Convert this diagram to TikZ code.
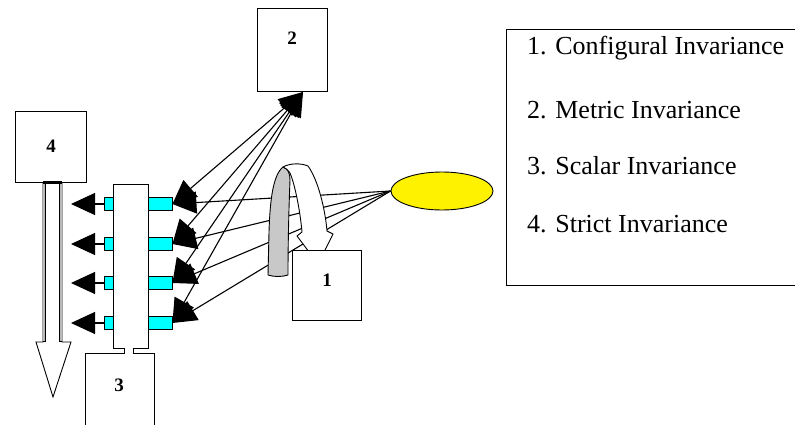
\documentclass[tikz,border=0pt]{standalone}
\usepackage{fontspec}
\setmainfont{Liberation Serif}
\usetikzlibrary{arrows.meta,shapes.geometric}
\definecolor{aqua}{RGB}{0,255,255}
\definecolor{ribbongray}{RGB}{200,200,200}
\begin{document}
\begin{tikzpicture}[x=1pt,y=-1pt,
  box/.style={draw,line width=1pt,fill=white,inner sep=0pt},
  num/.style={font=\fontsize{19}{19}\selectfont\bfseries,inner sep=0pt},
  ind/.style={draw,line width=0.9pt,fill=aqua,inner sep=0pt,minimum height=13pt},
  bigtip/.tip={Triangle[length=24pt,width=22pt]},
  arr/.style={line width=1.1pt,-bigtip},
  darr/.style={line width=1.1pt,bigtip-bigtip},
  legtext/.style={anchor=base west,font=\fontsize{26}{26}\selectfont,inner sep=0pt}]
\useasboundingbox (0,0) rectangle (795,425);
\clip (0,0) rectangle (795,425);

% boxes 2 and 4
\node[box,minimum width=70pt,minimum height=83pt] (b2) at (292,50.5) {};
\node[num] (b2t) at (292,38) {2};
\node[box,minimum width=71pt,minimum height=70pt] (b4) at (50.5,147) {};
\node[num] (b4t) at (51,146) {4};

% hollow downward arrow under box 4
\draw[line width=0.9pt,fill=white] (43,182) -- (43,342) -- (36,342) -- (53,397) -- (71,342) -- (62,342) -- (62,182);
\draw[line width=2.8pt] (44.2,183) -- (44.2,342) (60.8,183) -- (60.8,342);
\draw[gray!55,line width=1.5pt] (44.2,183) -- (44.2,341) (60.8,183) -- (60.8,341);
\draw[line width=2.5pt] (43,182.5) -- (62,182.5);

% tall bar with its indicators
\node[box,minimum width=35pt,minimum height=164pt] (bar) at (130.5,266) {};
\foreach \i/\y in {1/204,2/244,3/283,4/323}{
  \node[ind,minimum width=24pt] (r\i) at (160,\y) {};
  \node[ind,minimum width=9pt] (l\i) at (108.5,\y) {};
  \coordinate (t\i) at (71,\y);
  \draw[arr] (l\i.west) -- (t\i);
}

% box 3 joined to the bar by a short neck
\node[box,minimum width=69pt,minimum height=72pt] (b3) at (119.5,389) {};
\node[num] (b3t) at (119,385) {3};
\fill[white] (124.5,347) rectangle (133.5,353.6);
\draw[line width=0.9pt] (124.5,347.5) -- (124.5,353.5) (133.5,347.5) -- (133.5,353.5);

% latent factor
\node[ellipse,draw,line width=0.9pt,fill=yellow,minimum width=102pt,minimum height=38pt,inner sep=0pt] (lat) at (442,191) {};

% loadings from the factor
\foreach \i in {1,...,4}{
  \draw[arr] (lat.west) -- (r\i.east);
}

% links between the indicators and box 2
\coordinate (b2in) at (303,92);
\foreach \i in {1,...,4}{
  \draw[darr] (r\i.east) -- (b2in);
}

% curved ribbon arrow pointing into box 1
\draw[line width=0.9pt,fill=ribbongray,line join=round]
  (268,275) -- (269,232) .. controls (270,200) and (273,175) .. (283,167)
  .. controls (288,169) and (290,173) .. (290,180)
  .. controls (289,205) and (288,240) .. (288,275)
  .. controls (282,277) and (274,277) .. (268,275) -- cycle;
\draw[line width=0.9pt,fill=white,line join=round]
  (283,167) .. controls (290,163) and (301,163) .. (308,166)
  .. controls (318,180) and (325,208) .. (327,231)
  -- (333,234) -- (318,264) -- (297,236) -- (302,232)
  .. controls (300,210) and (295,185) .. (290,173)
  .. controls (288,170) and (286,168) .. (283,167) -- cycle;

% box 1
\node[box,minimum width=69pt,minimum height=70pt] (b1) at (326.5,285) {};
\node[num] (b1t) at (327,280) {1};

% legend
\node[draw,line width=1pt,minimum width=300pt,minimum height=256pt,anchor=north west,inner sep=0pt] (leg) at (506,29) {};
\node[legtext] (k1) at (527,55) {1. Configural Invariance};
\node[legtext] (k2) at (527,119) {2. Metric Invariance};
\node[legtext] (k3) at (527,175) {3. Scalar Invariance};
\node[legtext] (k4) at (527,232) {4. Strict Invariance};
\end{tikzpicture}
\end{document}
